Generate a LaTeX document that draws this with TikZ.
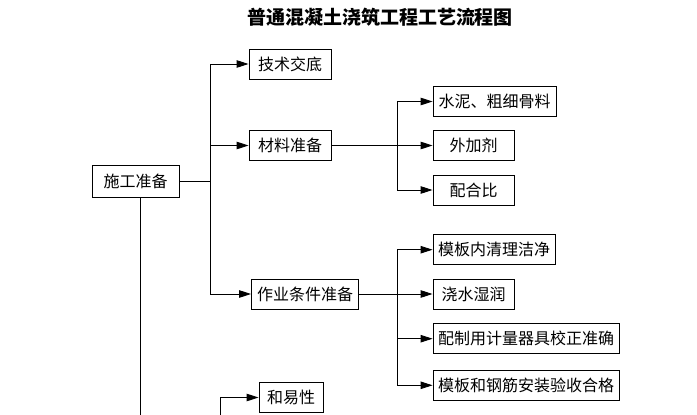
\documentclass[tikz,border=0pt]{standalone}
\usepackage{fontspec}
\setmainfont{Noto Sans CJK SC}
\usepackage{tikz}
\usetikzlibrary{arrows.meta, positioning}

\begin{document}
\begin{tikzpicture}[x=1pt, y=-1pt,
  box/.style={draw, line width=0.9pt, minimum height=30pt, inner sep=0pt,
    font=\fontsize{16}{16}\selectfont},
  arr/.style={line width=0.9pt, -{Triangle[length=12pt, width=7.5pt]}},
  ln/.style={line width=0.9pt}]
  \useasboundingbox (0,0) rectangle (697,415);
  \node (title) at (380,17) {\fontsize{19}{19}\selectfont\bfseries 普通混凝土浇筑工程工艺流程图};

  \node[box, minimum width=87pt, minimum height=32pt] (sgzb) at (135.5,181) {施工准备};
  \node[box, minimum width=82pt] (jsjd) at (290,64) {技术交底};
  \node[box, minimum width=82pt] (clzb) at (290,145.5) {材料准备};
  \node[box, minimum width=107pt] (zytj) at (305,294) {作业条件准备};

  \node[box, minimum width=123pt] (snjl) at (494.5,101.5) {水泥、粗细骨料};
  \node[box, minimum width=81pt] (wjj) at (473.5,145.5) {外加剂};
  \node[box, minimum width=81pt] (phb) at (473.5,190) {配合比};

  \node[box, minimum width=122pt] (mbql) at (494,249.7) {模板内清理洁净};
  \node[box, minimum width=81pt] (jssr) at (473.5,294) {浇水湿润};
  \node[box, minimum width=186pt] (jlqj) at (526,338.7) {配制用计量器具校正准确};
  \node[box, minimum width=186pt] (mbys) at (526,385.3) {模板和钢筋安装验收合格};

  \node[box, minimum width=64pt] (hyx) at (291,397.5) {和易性};

  % 施工准备 branches
  \coordinate (b1) at (210.5,181);
  \draw[ln] (sgzb) -- (b1);
  \draw[arr] (b1) |- (jsjd);
  \draw[arr] (b1) |- (clzb);
  \draw[arr] (b1) |- (zytj);

  % 材料准备 branches
  \coordinate (b2) at (397,145.5);
  \draw[arr] (clzb) -- (wjj);
  \draw[arr] (b2) |- (snjl);
  \draw[arr] (b2) |- (phb);

  % 作业条件准备 branches
  \coordinate (b3) at (397,294);
  \draw[arr] (zytj) -- (jssr);
  \draw[arr] (b3) |- (mbql);
  \draw[arr] (b3) |- (jlqj);
  \draw[arr] (b3) |- (mbys);

  % lines running off the page
  \coordinate (e1) at (140.5,416);
  \draw[ln] (sgzb.south -| e1) -- (e1);
  \coordinate (b4) at (220,416);
  \draw[arr] (b4) |- (hyx);
\end{tikzpicture}
\end{document}
